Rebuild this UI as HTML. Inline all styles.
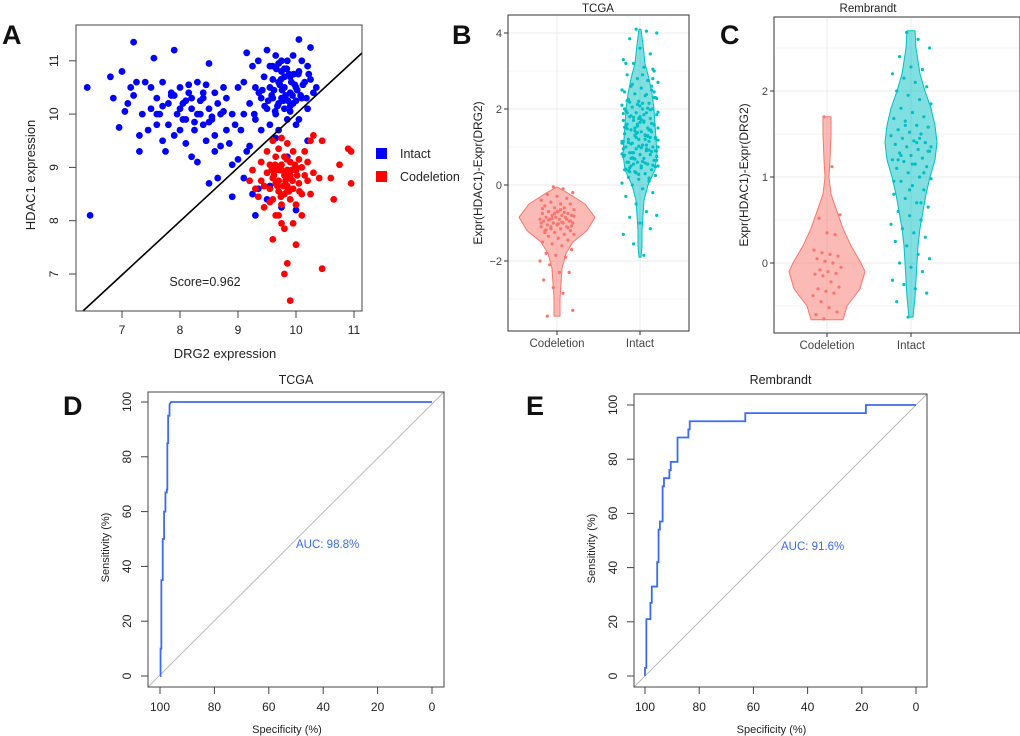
<!DOCTYPE html>
<html><head><meta charset="utf-8"><style>
body{margin:0;background:#fff;}
svg{display:block;font-family:"Liberation Sans",Arial,sans-serif;}
</style></head><body>
<svg id="fig" width="1020" height="736" viewBox="0 0 1020 736" xmlns="http://www.w3.org/2000/svg"></svg>
<script>
// ---------- DATA ----------
const blueX=[6.4,6.45,6.8,6.85,6.95,7.0,7.05,7.1,7.15,7.2,7.2,7.25,7.3,7.3,7.35,7.4,7.45,7.5,7.5,7.55,7.6,7.6,7.65,7.7,7.7,7.75,7.8,7.8,7.85,7.9,7.9,7.95,8.0,8.0,8.05,8.1,8.1,8.15,8.2,8.2,8.25,8.3,8.3,8.35,8.4,8.4,8.45,8.5,8.5,8.55,8.6,8.6,8.65,8.7,8.7,8.75,8.8,8.8,8.85,8.9,8.95,8.5,8.65,8.9,9.0,9.0,9.05,9.1,9.1,9.15,9.2,9.25,9.3,9.35,9.5,9.55,9.75,9.85,10.0,10.05,10.2,
9.1,9.15,9.2,9.25,9.3,9.3,9.35,9.4,9.4,9.45,9.5,9.5,9.55,9.55,9.6,9.6,9.65,9.65,9.7,9.7,9.75,9.75,9.8,9.8,9.85,9.85,9.9,9.9,9.95,9.95,10.0,10.0,10.05,10.05,10.1,10.1,10.15,10.2,10.2,10.25,10.25,10.3,10.35,9.7,9.8,9.6,9.9,10.0,9.75,9.55,8.6,8.9,9.65,8.2,8.0,7.6,8.4,
9.62,9.72,9.82,9.92,10.02,9.68,9.78,9.88,9.98,10.08,9.58,9.66,9.76,9.86,9.96,10.12,9.52,9.64,9.74,9.84,9.94,10.04,9.46,9.36,9.28,9.42,10.18,10.22,9.7,9.8,9.9,8.1,8.3,8.5,7.9,7.7,8.15,8.35,8.55,8.75,7.85,8.05,8.25,8.45];
const blueY=[10.5,8.1,10.7,10.3,9.75,10.8,10.05,10.2,10.5,10.35,11.35,10.6,9.6,9.3,10.0,10.6,9.7,10.1,10.5,11.05,9.8,10.3,10.0,9.5,10.6,9.3,10.2,9.8,10.4,9.6,11.2,10.0,10.5,9.7,10.2,9.45,9.9,10.4,9.2,10.1,9.7,10.6,9.1,10.0,9.8,10.3,9.5,10.1,10.95,9.9,10.4,9.6,10.2,9.4,10.0,10.5,9.7,10.3,9.45,10.0,9.8,8.7,8.8,8.45,9.15,10.5,9.7,10.0,8.8,9.3,9.4,8.5,8.1,8.6,8.4,8.65,8.25,9.2,8.2,9.9,9.5,
10.6,11.15,10.2,10.9,10.5,9.9,11.0,10.3,9.7,10.7,10.1,11.2,10.5,9.8,10.9,10.3,10.0,11.1,10.6,9.7,10.3,10.8,10.1,10.5,11.0,9.9,10.4,10.7,10.2,11.1,10.5,9.8,10.8,11.4,10.3,11.0,10.6,10.9,10.1,11.25,10.65,10.4,10.5,10.2,10.7,10.65,10.05,10.25,11.0,10.9,9.3,9.05,9.55,10.3,10.1,10.0,10.4,
10.45,10.55,10.35,10.6,10.45,10.15,10.25,10.75,10.55,10.35,10.35,10.85,10.45,10.25,10.75,10.55,10.25,10.05,10.65,10.85,10.35,10.75,10.15,10.4,10.0,10.45,10.3,10.75,10.95,10.85,10.15,10.25,10.0,9.85,10.35,10.15,10.55,10.25,9.95,10.05,10.35,9.9,9.85,10.55];
const redX=[9.2,9.25,9.3,9.35,9.4,9.4,9.45,9.5,9.5,9.55,9.55,9.6,9.6,9.6,9.65,9.65,9.65,9.7,9.7,9.7,9.75,9.75,9.75,9.8,9.8,9.8,9.85,9.85,9.85,9.9,9.9,9.9,9.95,9.95,10.0,10.0,10.0,10.05,10.05,10.1,10.1,10.15,10.15,10.2,10.2,10.25,10.3,10.25,10.3,10.45,10.4,10.6,10.65,10.75,10.9,10.95,10.95,9.6,9.8,9.75,9.95,10.0,9.85,9.8,9.9,10.45,9.7,9.55,9.45,10.1,9.65,9.75,9.9,9.7,9.85,
9.62,9.72,9.82,9.92,10.02,9.68,9.78,9.88,9.58,9.98,9.74,9.84,9.64,9.94,10.06];
const redY=[8.75,8.95,8.6,8.45,9.1,8.75,8.25,8.9,9.3,8.6,9.05,8.4,8.8,9.5,8.1,9.2,8.95,8.55,9.35,8.75,9.05,8.3,9.55,8.85,8.5,9.2,8.95,8.65,9.45,8.4,8.8,9.1,9.3,8.6,8.95,8.3,9.0,9.15,8.7,9.0,8.5,8.85,9.3,8.75,9.1,8.5,8.9,9.5,9.6,9.5,8.8,8.8,8.4,9.05,9.35,9.3,8.7,7.65,7.85,7.95,7.95,7.55,7.2,7.0,6.5,7.1,8.1,8.35,8.65,8.1,8.7,8.95,8.85,9.0,8.55,
8.85,8.95,8.75,8.95,8.85,8.65,8.65,8.55,8.95,9.05,8.45,9.15,9.05,8.75,8.55];
const aXTicks=[7,8,9,10,11];
const aYTicks=[7,8,9,10,11];
const scoreLabel="Score=0.962";

const bTicks=[-2,0,2,4];
const bCodY=[-0.05,-0.2,-0.5,-0.85,-1.2,-1.5,-1.8,-2.2,-2.6,-3.0,-3.45];
const bCodDens=[0,10,28,38,30,16,9,5,4,3,3];
const bIntY=[4.1,3.7,3.2,2.8,2.4,2.0,1.6,1.2,0.8,0.4,0,-0.4,-0.8,-1.2,-1.6,-1.9];
const bIntDens=[1,3,5,9,12,14,15,16,17,15,8,4,3,2,2,1];
const bCodPts=[-0.05,-0.1,-0.2,-0.25,-0.3,-0.35,-0.4,-0.45,-0.5,-0.5,-0.55,-0.6,-0.6,-0.65,-0.7,-0.7,-0.75,-0.75,-0.8,-0.8,-0.8,-0.85,-0.85,-0.85,-0.9,-0.9,-0.9,-0.95,-0.95,-1.0,-1.0,-1.0,-1.05,-1.05,-1.1,-1.1,-1.15,-1.15,-1.2,-1.2,-1.25,-1.3,-1.3,-1.35,-1.4,-1.45,-1.5,-1.55,-1.6,-1.7,-1.8,-1.85,-1.9,-2.0,-2.1,-2.3,-2.3,-2.5,-2.7,-2.85,-3.3,-3.45,-0.7,-0.9,-1.0,-1.1,-0.65,-0.95,-1.25,-0.75,-0.72,-0.82,-0.92,-1.02,-1.12,-0.62,-0.88,-0.98,-1.08,-1.18];
const bIntPts=[4.1,4.05,4.0,3.85,3.6,3.45,3.3,3.2,3.1,3.0,2.9,2.8,2.75,2.7,2.6,2.55,2.5,2.45,2.4,2.35,2.3,2.25,2.2,2.15,2.1,2.05,2.0,2.0,1.95,1.9,1.9,1.85,1.8,1.8,1.75,1.7,1.7,1.65,1.6,1.6,1.55,1.5,1.5,1.45,1.4,1.4,1.35,1.3,1.3,1.25,1.2,1.2,1.15,1.1,1.1,1.05,1.0,1.0,0.95,0.9,0.9,0.85,0.8,0.8,0.75,0.7,0.7,0.65,0.6,0.6,0.55,0.5,0.5,0.45,0.4,0.4,0.35,0.3,0.25,0.2,0.15,0.1,0.05,0,-0.1,-0.2,-0.3,-0.5,-0.7,-0.8,-0.85,-1.0,-1.15,-1.3,-1.55,-1.85,2.3,1.9,1.6,1.3,1.0,0.7,0.5,2.6,2.0,1.5,1.2,0.9,0.6,1.75,1.45,1.15,0.85,2.15,2.8,3.2,1.35,1.05,0.75,0.45,1.65,1.25,0.95,0.55,1.85,2.45,
2.22,2.12,2.02,1.92,1.82,1.72,1.62,1.52,1.42,1.32,1.22,1.12,1.02,0.92,0.82,0.72,0.62,0.52,0.42,0.32,2.38,2.28,2.18,2.08,1.98,1.88,1.78,1.68,1.58,1.48,1.38,1.28,1.18,1.08,0.98,0.88,0.78,0.68,0.58,0.48,0.38,0.28,0.18,2.5,2.65,2.9,3.05,1.55,1.25,0.95,0.65,0.35,1.75,1.45,1.15,0.85];

const cTicks=[0,1,2];
const cCodY=[1.7,1.5,1.2,1.0,0.8,0.6,0.4,0.2,0,-0.1,-0.3,-0.5,-0.66];
const cCodDens=[4,4,3,2,4,10,16,24,34,38,33,20,16];
const cIntY=[2.7,2.5,2.2,2.0,1.8,1.6,1.4,1.2,1.0,0.8,0.6,0.4,0.2,0,-0.2,-0.4,-0.63];
const cIntDens=[4,5,9,14,20,24,26,24,19,15,12,9,7,6,5,4,2];
const cCodPts=[1.7,1.12,0.56,0.52,0.35,0.33,0.15,0.12,0.1,0.08,0.05,0.02,0,-0.05,-0.08,-0.1,-0.12,-0.13,-0.15,-0.22,-0.28,-0.3,-0.33,-0.35,-0.38,-0.45,-0.52,-0.57,-0.6,-0.65];
const cIntPts=[2.68,2.6,2.5,2.4,2.28,2.25,2.2,2.15,2.1,2.05,2.0,1.95,1.9,1.85,1.8,1.75,1.7,1.68,1.65,1.6,1.58,1.55,1.52,1.5,1.48,1.45,1.42,1.4,1.38,1.35,1.32,1.3,1.28,1.25,1.22,1.2,1.18,1.15,1.12,1.1,1.05,1.0,0.98,0.95,0.9,0.85,0.8,0.75,0.7,0.65,0.6,0.55,0.5,0.45,0.4,0.35,0.3,0.25,0.2,0.1,0.05,0,-0.05,-0.1,-0.2,-0.25,-0.3,-0.35,-0.45,-0.63,1.45,1.35,1.25,1.15,1.05,0.95,1.6,1.4,1.3,1.2,0.85,0.7];

const rocTicks=[0,20,40,60,80,100];
const dSpec=[100,100,99.8,99.8,99.5,99.5,99,99,98.5,98.5,98,98,97.5,97.5,97.3,97.3,97,97,96.5,96.5,96,0];
const dSens=[0,0,0,10,10,35,35,50,50,60,60,67,67,68,68,85,85,95,95,99,100,100];
const eSpec=[100,100,99.5,99.5,98,98,97.5,97.5,95.5,95.5,95,95,94.5,94.5,93.5,93.5,93,93,91,91,90.5,90.5,88,88,84,84,83.5,83.5,63,63,18.5,18.5,0];
const eSens=[0,3,3,21,21,27,27,33,33,42,42,54,54,57,57,70,70,73,73,76,76,79,79,88,88,91,91,94,94,97,97,100,100];

// ---------- helpers ----------
const svg=document.getElementById('fig');
const NS='http://www.w3.org/2000/svg';
function el(tag,attrs,parent){const e=document.createElementNS(NS,tag);for(const k in attrs)e.setAttribute(k,attrs[k]);(parent||svg).appendChild(e);return e;}
function txt(x,y,s,size,attrs,parent){const t=el('text',Object.assign({x:x,y:y,'font-size':size,fill:'#222'},attrs||{}),parent);t.textContent=s;return t;}
function group(name){const g=el('g',{});return g;}

// ---------- Panel A ----------
(function(){
const g=group('panel-a-scatter');
const sx=v=>122+(v-7)*58, sy=v=>274-(v-7)*53.3;
const L=txt(2,44,'A',27,{'font-weight':'bold',fill:'#111'},g);

for(let i=0;i<blueX.length;i++){const c=el('circle',{cx:sx(blueX[i]),cy:sy(blueY[i]),r:3.4,fill:'#0000ff'},g);
}
for(let i=0;i<redX.length;i++){const c=el('circle',{cx:sx(redX[i]),cy:sy(redY[i]),r:3.4,fill:'#ff0000'},g);
}
const dl=el('line',{x1:83,y1:311,x2:362,y2:53,stroke:'#000','stroke-width':1.6},g);

const fr=el('rect',{x:76,y:25,width:286,height:286,fill:'none',stroke:'#444','stroke-width':1},g);

aXTicks.forEach(v=>{el('line',{x1:sx(v),x2:sx(v),y1:311,y2:318,stroke:'#444'},g);txt(sx(v),334,String(v),12,{'text-anchor':'middle'},g);});
aYTicks.forEach(v=>{el('line',{x1:69,x2:76,y1:sy(v),y2:sy(v),stroke:'#444'},g);txt(58,sy(v),String(v),12,{'text-anchor':'middle',transform:`rotate(-90 58 ${sy(v)})`},g);});
const xt=txt(225,358,'DRG2  expression',13,{'text-anchor':'middle'},g);
const yt=txt(35,175,'HDAC1 expression',13,{'text-anchor':'middle',transform:'rotate(-90 35 175)'},g);
const sc=txt(205,286,scoreLabel,12.5,{'text-anchor':'middle'},g);
const l1=el('rect',{x:376,y:148,width:11,height:11,fill:'#0000ff'},g);
const t1=txt(400,158,'Intact',12.5,{},g);
const l2=el('rect',{x:376,y:171,width:11,height:11,fill:'#ff0000'},g);
const t2=txt(400,181,'Codeletion',12.5,{},g);
})();

// ---------- Violin helper ----------
function violinPanel(name,letter,letterX,title,titleX,box,yMap,ticks,cx,series){
const g=group(name);
const L=txt(letterX,44,letter,27,{'font-weight':'bold',fill:'#111'},g);

const T=txt(titleX,12,title,11.5,{'text-anchor':'middle'},g);
const minorStep=(ticks[1]-ticks[0])/2;
for(let v=ticks[0]-minorStep*2;v<=ticks[ticks.length-1]+minorStep*2;v+=minorStep){const y=yMap(v);if(y>box.y&&y<box.y+box.h){el('line',{x1:box.x,x2:box.x+box.w,y1:y,y2:y,stroke:'#ebebeb','stroke-width':Math.abs(Math.round(v/minorStep))%2===0?1:0.6},g);}}
cx.forEach(x=>el('line',{x1:x,x2:x,y1:box.y,y2:box.y+box.h,stroke:'#ebebeb'},g));
series.forEach((s,si)=>{
 const c=cx[si];let d='';
 s.ys.forEach((v,i)=>{d+=(i?'L':'M')+(c+s.dens[i])+' '+yMap(v);});
 for(let i=s.ys.length-1;i>=0;i--)d+='L'+(c-s.dens[i])+' '+yMap(s.ys[i]);
 d+='Z';
 const p=el('path',{d:d,fill:s.col,'fill-opacity':0.5,stroke:s.col,'stroke-width':1,'stroke-linejoin':'round'},g);
 
 s.pts.forEach((v,i)=>{const off=(((i*37+11)%29)/28-0.5)*2*s.jit;
  const pt=el('circle',{cx:c+off,cy:yMap(v),r:1.6,fill:s.col},g);
  });
 el('line',{x1:c,x2:c,y1:box.y+box.h,y2:box.y+box.h+4,stroke:'#333'},g);
 const xl=txt(c,box.y+box.h+16,s.label,11.5,{'text-anchor':'middle',fill:'#444'},g);
 
});
const fr=el('rect',{x:box.x,y:box.y,width:box.w,height:box.h,fill:'none',stroke:'#333','stroke-width':1},g);

ticks.forEach(v=>{el('line',{x1:box.x-4,x2:box.x,y1:yMap(v),y2:yMap(v),stroke:'#333'},g);txt(box.x-6,yMap(v)+4,String(v).replace('-','\u2212'),11,{'text-anchor':'end',fill:'#444'},g);});
const ya=box.x-26,ym=box.y+box.h/2;
const yt=txt(ya,ym,'Expr(HDAC1)-Expr(DRG2)',12,{'text-anchor':'middle',transform:`rotate(-90 ${ya} ${ym})`},g);

}
violinPanel('panel-b-tcga-violin','B',452,'TCGA',598,{x:508,y:15,w:181,h:316},v=>185-v*38,bTicks,[557,640],[
 {label:'Codeletion',col:'#f8766d',ys:bCodY,dens:bCodDens,pts:bCodPts,jit:17},
 {label:'Intact',col:'#00bfc4',ys:bIntY,dens:bIntDens,pts:bIntPts,jit:18}]);
violinPanel('panel-c-rembrandt-violin','C',720,'Rembrandt',868,{x:774,y:17,w:246,h:316},v=>263-v*86,cTicks,[827,911],[
 {label:'Codeletion',col:'#f8766d',ys:cCodY,dens:cCodDens,pts:cCodPts,jit:14},
 {label:'Intact',col:'#00bfc4',ys:cIntY,dens:cIntDens,pts:cIntPts,jit:20}]);

// ---------- ROC helper ----------
function rocPanel(name,letter,letterX,title,box,x100,x0,y100,y0,spec,sens,auc,aucX,aucY){
const g=group(name);
const L=txt(letterX,415,letter,27,{'font-weight':'bold',fill:'#111'},g);

const sx=v=>x100+(100-v)*(x0-x100)/100, sy=v=>y0-v*(y0-y100)/100;
const T=txt(box.x+box.w/2,384,title,12.5,{'text-anchor':'middle'},g);
const dg=el('line',{x1:box.x,y1:box.y+box.h,x2:box.x+box.w,y2:box.y,stroke:'#bbb','stroke-width':1},g);

const fr=el('rect',{x:box.x,y:box.y,width:box.w,height:box.h,fill:'none',stroke:'#444','stroke-width':1},g);

let d='';spec.forEach((v,i)=>{d+=(i?'L':'M')+sx(v)+' '+sy(sens[i]);});
const p=el('path',{d:d,fill:'none',stroke:'#3d6bf0','stroke-width':1.8},g);

rocTicks.forEach(v=>{
 el('line',{x1:sx(v),x2:sx(v),y1:box.y+box.h,y2:box.y+box.h+7,stroke:'#444'},g);
 txt(sx(v),box.y+box.h+24,String(v),12,{'text-anchor':'middle'},g);
 el('line',{x1:box.x-7,x2:box.x,y1:sy(v),y2:sy(v),stroke:'#444'},g);
 const tx=box.x-17;txt(tx,sy(v),String(v),12,{'text-anchor':'middle',transform:`rotate(-90 ${tx} ${sy(v)})`},g);
});
const xt=txt(box.x+box.w/2-9,box.y+box.h+46,'Specificity (%)',11,{'text-anchor':'middle'},g);

const ya=box.x-39,ym=box.y+box.h/2+8;
const yt=txt(ya,ym,'Sensitivity (%)',11,{'text-anchor':'middle',transform:`rotate(-90 ${ya} ${ym})`},g);

const at=txt(aucX,aucY,auc,11.5,{fill:'#3d6bf0'},g);
}
rocPanel('panel-d-tcga-roc','D',63,'TCGA',{x:148,y:392,w:296,h:295},160,432,402,676,dSpec,dSens,'AUC: 98.8%',296,548);
rocPanel('panel-e-rembrandt-roc','E',526,'Rembrandt',{x:634,y:394,w:293,h:293},645,916,405,676,eSpec,eSens,'AUC: 91.6%',781,550);
</script>
</body></html>
